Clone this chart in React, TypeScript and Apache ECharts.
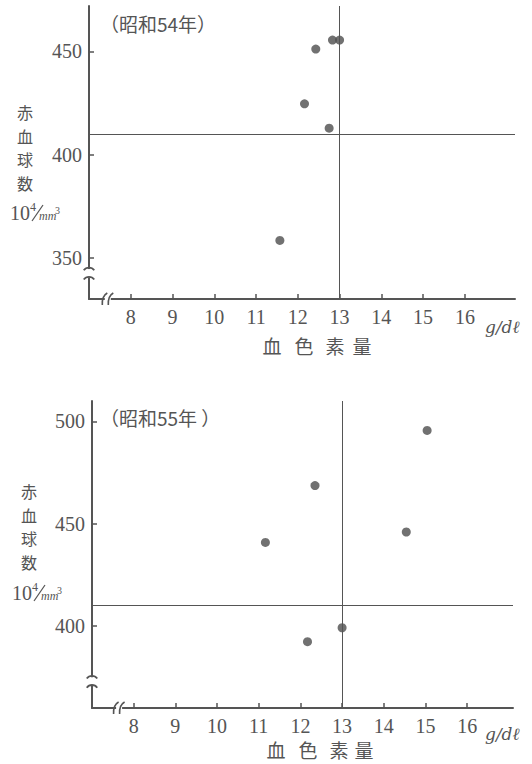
import React, { useEffect, useRef } from 'react';
import * as echarts from 'echarts';

// ---- data ----
const xTicks = [8, 9, 10, 11, 12, 13, 14, 15, 16];
const yTicks54 = [350, 400, 450];
const yTicks55 = [400, 450, 500];
// 昭和54年: hemoglobin (g/dl) vs red blood cell count (10^4/mm3)
const hb54 = [12.83, 13.0, 12.43, 12.16, 12.75, 11.57];
const rbc54 = [455.5, 455.5, 451.1, 424.6, 412.8, 358.4];
// 昭和55年
const hb55 = [15.04, 12.35, 14.54, 11.16, 12.17, 13.0];
const rbc55 = [495.6, 468.7, 446.0, 440.9, 392.4, 399.2];
const refHb = 13;
const refRbc = 410;
const titles = ['（昭和54年）', '（昭和55年 ）'];
const yNameChars = ['赤', '血', '球', '数'];
const xNameChars = ['血', '色', '素', '量'];
const unitX = 'g/dℓ';

const INK = '#555';
const SERIF = '"Liberation Serif", "DejaVu Serif", serif';
const CJK = '"Noto Sans CJK JP", sans-serif';

export default function App() {
  const ref = useRef<HTMLDivElement>(null);
  useEffect(() => {
    const chart = echarts.init(ref.current!, null, { renderer: 'svg' });
    const panels = [
      {
        grid: { left: 89, top: 6, width: 426, height: 293 },
        x: [7, 17.2], y: [330, 472], yTicks: yTicks54, hb: hb54, rbc: rbc54,
        yBreak: [345, 340.5], xBreak: 7.45,
        titleY: 23, yNameX: 25, yNameTop: 112.25, yNameStep: 23.5, unit: [10, 213],
        xNameY: 345, xNameX: [272, 304, 335, 362], unitXY: [485, 327],
      },
      {
        grid: { left: 92, top: 401, width: 421, height: 307 },
        x: [7, 17.1], y: [360, 510], yTicks: yTicks55, hb: hb55, rbc: rbc55,
        yBreak: [375.5, 371], xBreak: 7.65,
        titleY: 417, yNameX: 29, yNameTop: 491.25, yNameStep: 23.5, unit: [12, 593],
        xNameY: 749, xNameX: [276, 308, 339, 364], unitXY: [485, 734],
      },
    ];

    const option: any = {
      animation: false,
      grid: panels.map((p) => ({ ...p.grid, containLabel: false })),
      xAxis: panels.map((p, i) => ({
        gridIndex: i, type: 'value', min: p.x[0], max: p.x[1],
        axisLine: { show: true, onZero: false, lineStyle: { color: INK, width: 2 } },
        axisTick: { show: true, inside: true, length: 5, customValues: xTicks, lineStyle: { color: INK, width: 1.5 } },
        axisLabel: { show: true, customValues: xTicks, color: INK, fontFamily: SERIF, fontSize: 20, margin: 8 },
        splitLine: { show: false },
      })),
      yAxis: panels.map((p, i) => ({
        gridIndex: i, type: 'value', min: p.y[0], max: p.y[1],
        axisLine: { show: true, onZero: false, lineStyle: { color: INK, width: 2 } },
        axisTick: { show: true, inside: true, length: 5, customValues: p.yTicks, lineStyle: { color: INK, width: 1.5 } },
        axisLabel: { show: true, customValues: p.yTicks, color: INK, fontFamily: SERIF, fontSize: 20, margin: 7 },
        splitLine: { show: false },
      })),
      series: panels.map((p, i) => ({
        type: 'scatter', xAxisIndex: i, yAxisIndex: i,
        data: p.hb.map((v, k) => [v, p.rbc[k]]),
        symbolSize: 9,
        itemStyle: { color: '#4d4d4d' },
        markLine: {
          silent: true, symbol: ['none', 'none'], label: { show: false },
          lineStyle: { color: INK, width: 1, type: 'solid' },
          data: [{ xAxis: refHb }, { yAxis: refRbc }],
        },
      })),
    };
    chart.setOption(option);

    const g: any[] = [];
    panels.forEach((p, i) => {
      const conv = (x: number, y: number) => chart.convertToPixel({ gridIndex: i } as any, [x, y]) as number[];
      // y-axis break
      const [ax, yTop] = conv(p.x[0], p.yBreak[0]);
      const [, yBot] = conv(p.x[0], p.yBreak[1]);
      g.push({ type: 'rect', z: 100, shape: { x: ax - 3, y: yTop + 1, width: 6, height: yBot - yTop - 1 }, style: { fill: '#fff' } });
      [yTop, yBot].forEach((yy) =>
        g.push({
          type: 'arc', z: 101,
          shape: { cx: ax, cy: yy + 6, r: 6.5, startAngle: Math.PI * 1.2, endAngle: Math.PI * 1.8 },
          style: { stroke: INK, lineWidth: 1.8, fill: 'none' },
        })
      );
      // x-axis break
      const [bx, ay] = conv(p.xBreak, p.y[0]);
      g.push({ type: 'rect', z: 100, shape: { x: bx - 3, y: ay - 2, width: 6, height: 4 }, style: { fill: '#fff' } });
      [bx - 3, bx + 3].forEach((xx) =>
        g.push({
          type: 'bezierCurve', z: 101,
          shape: { x1: xx - 2.5, y1: ay + 6, x2: xx + 2.5, y2: ay - 6, cpx1: xx - 3, cpy1: ay - 3 },
          style: { stroke: INK, lineWidth: 1.6, fill: 'none' },
        })
      );
      // title
      g.push({ type: 'text', x: 100, y: p.titleY, style: { text: titles[i], fontSize: 19, fontFamily: CJK, fill: INK, align: 'left', verticalAlign: 'middle' } });
      // y name (vertical, one glyph per row)
      yNameChars.forEach((c, k) =>
        g.push({ type: 'text', x: p.yNameX, y: p.yNameTop + k * p.yNameStep, style: { text: c, fontSize: 16, fontFamily: CJK, fill: INK, align: 'center', verticalAlign: 'middle' } })
      );
      // unit 10^4/mm^3
      const [ux, uy] = p.unit;
      g.push({ type: 'text', x: ux, y: uy, style: { text: '10', fontSize: 20, fontFamily: SERIF, fill: INK, align: 'left', verticalAlign: 'middle' } });
      g.push({ type: 'text', x: ux + 20, y: uy - 6, style: { text: '4', fontSize: 12, fontFamily: SERIF, fill: INK, align: 'left', verticalAlign: 'middle' } });
      g.push({ type: 'line', shape: { x1: ux + 22, y1: uy + 8, x2: ux + 33, y2: uy - 8 }, style: { stroke: INK, lineWidth: 1.2 } });
      g.push({ type: 'text', x: ux + 29, y: uy + 3, style: { text: 'mm', fontSize: 12, fontStyle: 'italic', fontFamily: SERIF, fill: INK, align: 'left', verticalAlign: 'middle' } });
      g.push({ type: 'text', x: ux + 45, y: uy - 3, style: { text: '3', fontSize: 10, fontFamily: SERIF, fill: INK, align: 'left', verticalAlign: 'middle' } });
      // x name
      xNameChars.forEach((c, k) =>
        g.push({ type: 'text', x: p.xNameX[k], y: p.xNameY, style: { text: c, fontSize: 19, fontFamily: CJK, fill: INK, align: 'center', verticalAlign: 'middle' } })
      );
      // x unit
      g.push({ type: 'text', x: p.unitXY[0], y: p.unitXY[1], style: { text: unitX, fontSize: 17, fontStyle: 'italic', fontFamily: '"DejaVu Serif", serif', fill: INK, align: 'left', verticalAlign: 'middle' } });
    });
    chart.setOption({ graphic: g });

    return () => chart.dispose();
  }, []);
  return <div ref={ref} style={{ position: 'absolute', left: 0, top: 0, width: 532, height: 764, background: '#fff' }} />;
}
